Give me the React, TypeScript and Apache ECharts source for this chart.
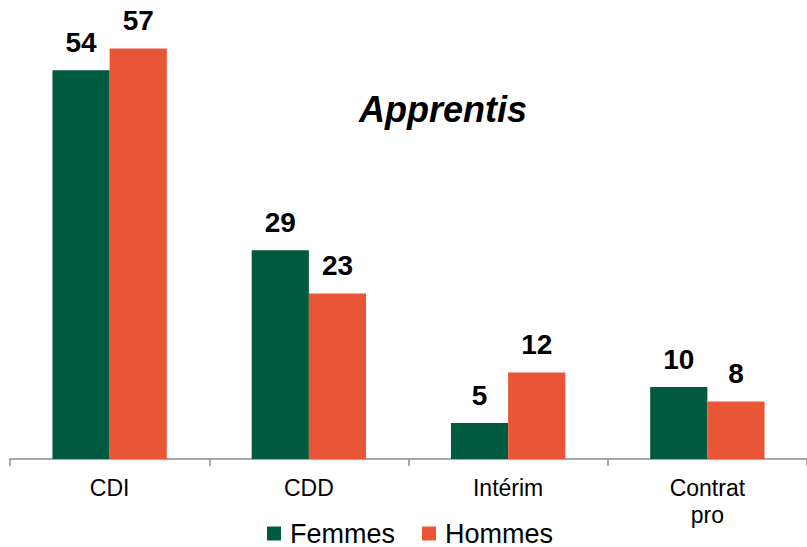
import React, { useEffect, useRef } from "react";
import * as echarts from "echarts";

const categories = ["CDI", "CDD", "Intérim", "Contrat\npro"];
const femmes = [54, 29, 5, 10];
const hommes = [57, 23, 12, 8];
const seriesNames = ["Femmes", "Hommes"];
const title = "Apprentis";

export default function App() {
  const ref = useRef<HTMLDivElement>(null);
  useEffect(() => {
    document.body.style.margin = "0";
    if (!ref.current) return;
    const chart = echarts.init(ref.current, undefined, { renderer: "svg" });
    const font = "'Liberation Sans', Arial, sans-serif";
    const label = {
      show: true,
      position: "top",
      distance: 14,
      fontSize: 28,
      lineHeight: 28,
      fontWeight: "bold",
      color: "#000",
      fontFamily: font,
    };
    chart.setOption({
      animation: false,
      title: {
        text: title,
        left: 443,
        top: 91,
        padding: 0,
        textAlign: "center",
        textStyle: {
          fontSize: 36,
          lineHeight: 36,
          fontWeight: "bold",
          fontStyle: "italic",
          color: "#000",
          fontFamily: font,
        },
      },
      legend: {
        data: seriesNames,
        top: 520,
        left: 267,
        padding: 0,
        itemWidth: 14,
        itemHeight: 14,
        itemGap: 27,
        icon: "rect",
        textStyle: {
          fontSize: 27,
          lineHeight: 27,
          color: "#000",
          fontFamily: font,
          padding: [0, 0, 0, 4],
        },
      },
      grid: { left: 10, right: -5, top: 27, bottom: 88, containLabel: false },
      xAxis: {
        type: "category",
        data: categories,
        axisLine: { lineStyle: { color: "#8c8c8c", width: 1.5 } },
        axisTick: { show: true, length: 7, lineStyle: { color: "#8c8c8c", width: 1.5 } },
        axisLabel: {
          fontSize: 23,
          lineHeight: 27,
          color: "#000",
          fontFamily: font,
          margin: 15,
        },
      },
      yAxis: {
        type: "value",
        min: 0,
        max: 60,
        show: false,
        splitLine: { show: false },
      },
      series: [
        {
          name: seriesNames[0],
          type: "bar",
          data: femmes,
          itemStyle: { color: "#005A40" },
          barGap: "0%",
          barCategoryGap: "42.6%",
          label,
        },
        {
          name: seriesNames[1],
          type: "bar",
          data: hommes,
          itemStyle: { color: "#E95636" },
          barGap: "0%",
          barCategoryGap: "42.6%",
          label,
        },
      ],
    });
    return () => chart.dispose();
  }, []);
  return <div ref={ref} style={{ width: 807, height: 547 }} />;
}
